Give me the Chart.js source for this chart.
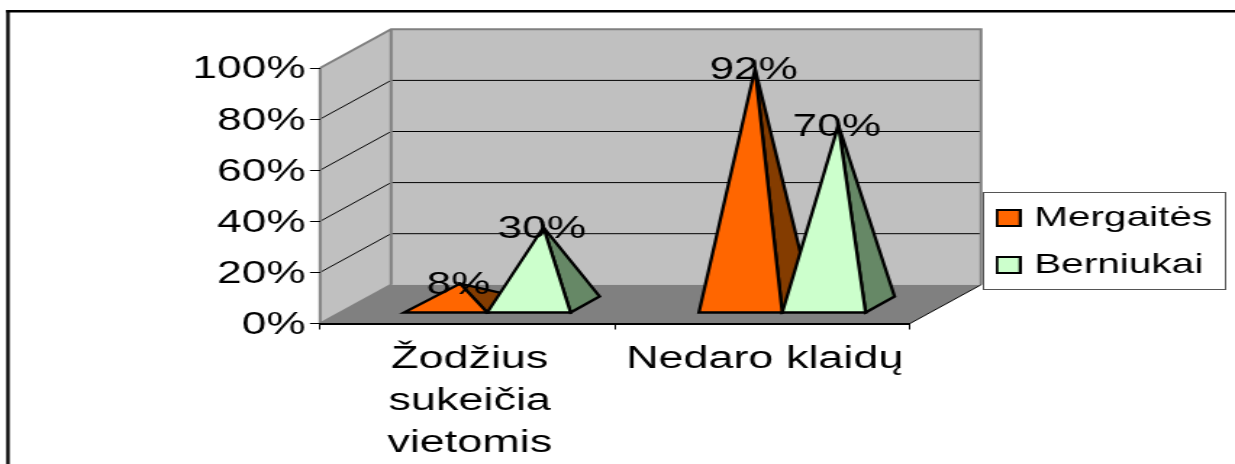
<!DOCTYPE html>
<html><head><meta charset="utf-8">
<style>html,body{margin:0;padding:0;background:#fff;overflow:hidden}
#c{position:absolute;left:0;top:0;transform-origin:0 0;transform:scaleX(1.4495)}</style>
<script src="https://cdn.jsdelivr.net/npm/chart.js@4"></script>
</head><body><canvas id="c" width="852" height="464"></canvas>
<script>
const categories = [["Žodžius","sukeičia","vietomis"], "Nedaro klaidų"];
const mergaites = [8, 92];
const berniukai = [30, 70];
const yTicks = [0, 20, 40, 60, 80, 100];
const FONT = '"Liberation Sans", Arial, sans-serif';
const DX = 49, DY = 38.7;      // wall depth
const bDX = 20, bDY = 16;      // pyramid base depth
const shades = {"#FF6600":"#843C00", "#CCFFCC":"#668866"};

class PyramidController extends Chart.BarController { draw(){} }
PyramidController.id = 'pyramid';
PyramidController.defaults = Chart.BarController.defaults;
PyramidController.overrides = Chart.BarController.overrides;
Chart.register(PyramidController);

function poly(ctx, pts, fill, stroke, lw){
  ctx.beginPath();
  pts.forEach((p,i)=> i?ctx.lineTo(p[0],p[1]):ctx.moveTo(p[0],p[1]));
  ctx.closePath();
  if(fill){ctx.fillStyle=fill;ctx.fill();}
  if(stroke){ctx.strokeStyle=stroke;ctx.lineWidth=lw;ctx.lineJoin='miter';ctx.stroke();}
}
function swatch(color){
  const s=document.createElement('canvas'); s.width=18; s.height=18;
  const x=s.getContext('2d');
  x.fillStyle=color; x.fillRect(1,1,16,16);
  x.strokeStyle='#000'; x.lineWidth=2; x.strokeRect(1,1,16,16);
  return s;
}
const scene = {
  id:'scene',
  afterLayout(chart){
    const L=chart.legend;
    const w=L.width,h=L.height;
    L.left=673; L.right=L.left+w; L.top=185; L.bottom=L.top+h;
  },
  beforeDraw(chart){
    const c=chart.ctx, a=chart.chartArea, y=chart.scales.y;
    c.save();
    // outer frame
    c.fillStyle='#000';
    c.fillRect(4.3,10,2.3,454);
    c.fillRect(4.3,10,848,2.5);
    // walls + floor
    const wt=a.top-DY, wb=a.bottom-DY;
    poly(c,[[a.left,a.top],[a.left+DX,wt],[a.left+DX,wb],[a.left,a.bottom]],'#C0C0C0');
    poly(c,[[a.left+DX,wt],[a.right+DX,wt],[a.right+DX,wb],[a.left+DX,wb]],'#C0C0C0');
    poly(c,[[a.left,a.bottom],[a.left+DX,wb],[a.right+DX,wb],[a.right,a.bottom]],'#808080');
    // gridlines from y scale
    c.strokeStyle='#000'; c.lineWidth=1;
    yTicks.forEach(v=>{
      if(v===0||v===100) return;
      const p=y.getPixelForValue(v);
      c.beginPath();c.moveTo(a.left,p);c.lineTo(a.left+DX,p-DY);c.lineTo(a.right+DX,p-DY);c.stroke();
    });
    // wall edges
    c.strokeStyle='#808080'; c.lineWidth=2;
    c.beginPath();
    c.moveTo(a.left,a.top);c.lineTo(a.left+DX,wt);c.lineTo(a.right+DX,wt);c.lineTo(a.right+DX,wb);
    c.moveTo(a.left+DX,wt);c.lineTo(a.left+DX,wb);
    c.moveTo(a.left,a.top);c.lineTo(a.left,a.bottom);
    c.moveTo(a.left,a.bottom);c.lineTo(a.left+DX,wb);
    c.stroke();
    c.strokeStyle='#000'; c.lineWidth=1;
    c.beginPath();c.moveTo(a.right,a.bottom);c.lineTo(a.right+DX,wb);c.stroke();
    // legend frame
    c.fillStyle='#fff';c.fillRect(678,192,167,97);
    c.strokeStyle='#555';c.lineWidth=1;c.strokeRect(678.5,192.5,167,97);
    c.restore();
  },
  afterDatasetsDraw(chart){
    const c=chart.ctx;
    c.save();
    const tips=[];
    chart.data.datasets.forEach((ds,i)=>{
      chart.getDatasetMeta(i).data.forEach((el,j)=>{
        const off=13.6, cx=el.x+off, hw=el.width/2;
        const by=el.base-10.5, ax=cx+bDX/2, ay=el.y-19.5;
        poly(c,[[cx+hw,by],[cx+hw+bDX,by-bDY],[ax,ay]],shades[ds.backgroundColor],'#000',2.3);
        poly(c,[[cx-hw,by],[cx+hw,by],[ax,ay]],ds.backgroundColor,'#000',2.3);
        tips.push([ax,ay,ds.data[j]+'%']);
      });
    });
    c.fillStyle='#000';c.font='30.5px '+FONT;c.textAlign='center';c.textBaseline='middle';
    tips.forEach(t=>c.fillText(t[2],t[0]-1,t[1]+2));
    c.restore();
  }
};
new Chart(document.getElementById('c'),{
  type:'pyramid',
  data:{labels:categories,datasets:[
    {label:'Mergaitės',data:mergaites,backgroundColor:'#FF6600'},
    {label:'Berniukai',data:berniukai,backgroundColor:'#CCFFCC'}
  ]},
  plugins:[scene],
  options:{
    responsive:false,animation:false,devicePixelRatio:1,
    datasets:{pyramid:{barPercentage:1,categoryPercentage:0.565}},
    layout:{autoPadding:false,padding:{top:68,left:0,right:224.2,bottom:0}},
    plugins:{
      tooltip:{enabled:false},
      legend:{
        position:'chartArea',align:'start',
        labels:{
          color:'#000',font:{size:28,family:FONT},
          usePointStyle:true,boxWidth:7.4,boxHeight:7.4,pointStyleWidth:7.4,padding:19,
          generateLabels(chart){
            return Chart.defaults.plugins.legend.labels.generateLabels(chart).map(l=>{
              l.pointStyle=swatch(chart.data.datasets[l.datasetIndex].backgroundColor);
              return l;
            });
          }
        }
      }
    },
    scales:{
      x:{
        afterFit(s){s.height=140.5;},
        grid:{drawOnChartArea:false,drawTicks:true,tickLength:6,color:'#000',offset:true},
        border:{display:true,color:'#000',width:2},
        ticks:{color:'#000',font:{size:31,family:FONT,lineHeight:1.35},maxRotation:0,minRotation:0,autoSkip:false,padding:9,labelOffset:1.5}
      },
      y:{
        min:0,max:100,
        afterFit(s){s.width=220.8;},
        afterBuildTicks(s){s.ticks=yTicks.map(v=>({value:v}));},
        grid:{drawOnChartArea:false,drawTicks:true,tickLength:7,color:'#000'},
        border:{display:false},
        ticks:{color:'#000',font:{size:30.5,family:FONT},padding:3,labelOffset:2,callback:v=>v+'%'}
      }
    }
  }
});
</script></body></html>
